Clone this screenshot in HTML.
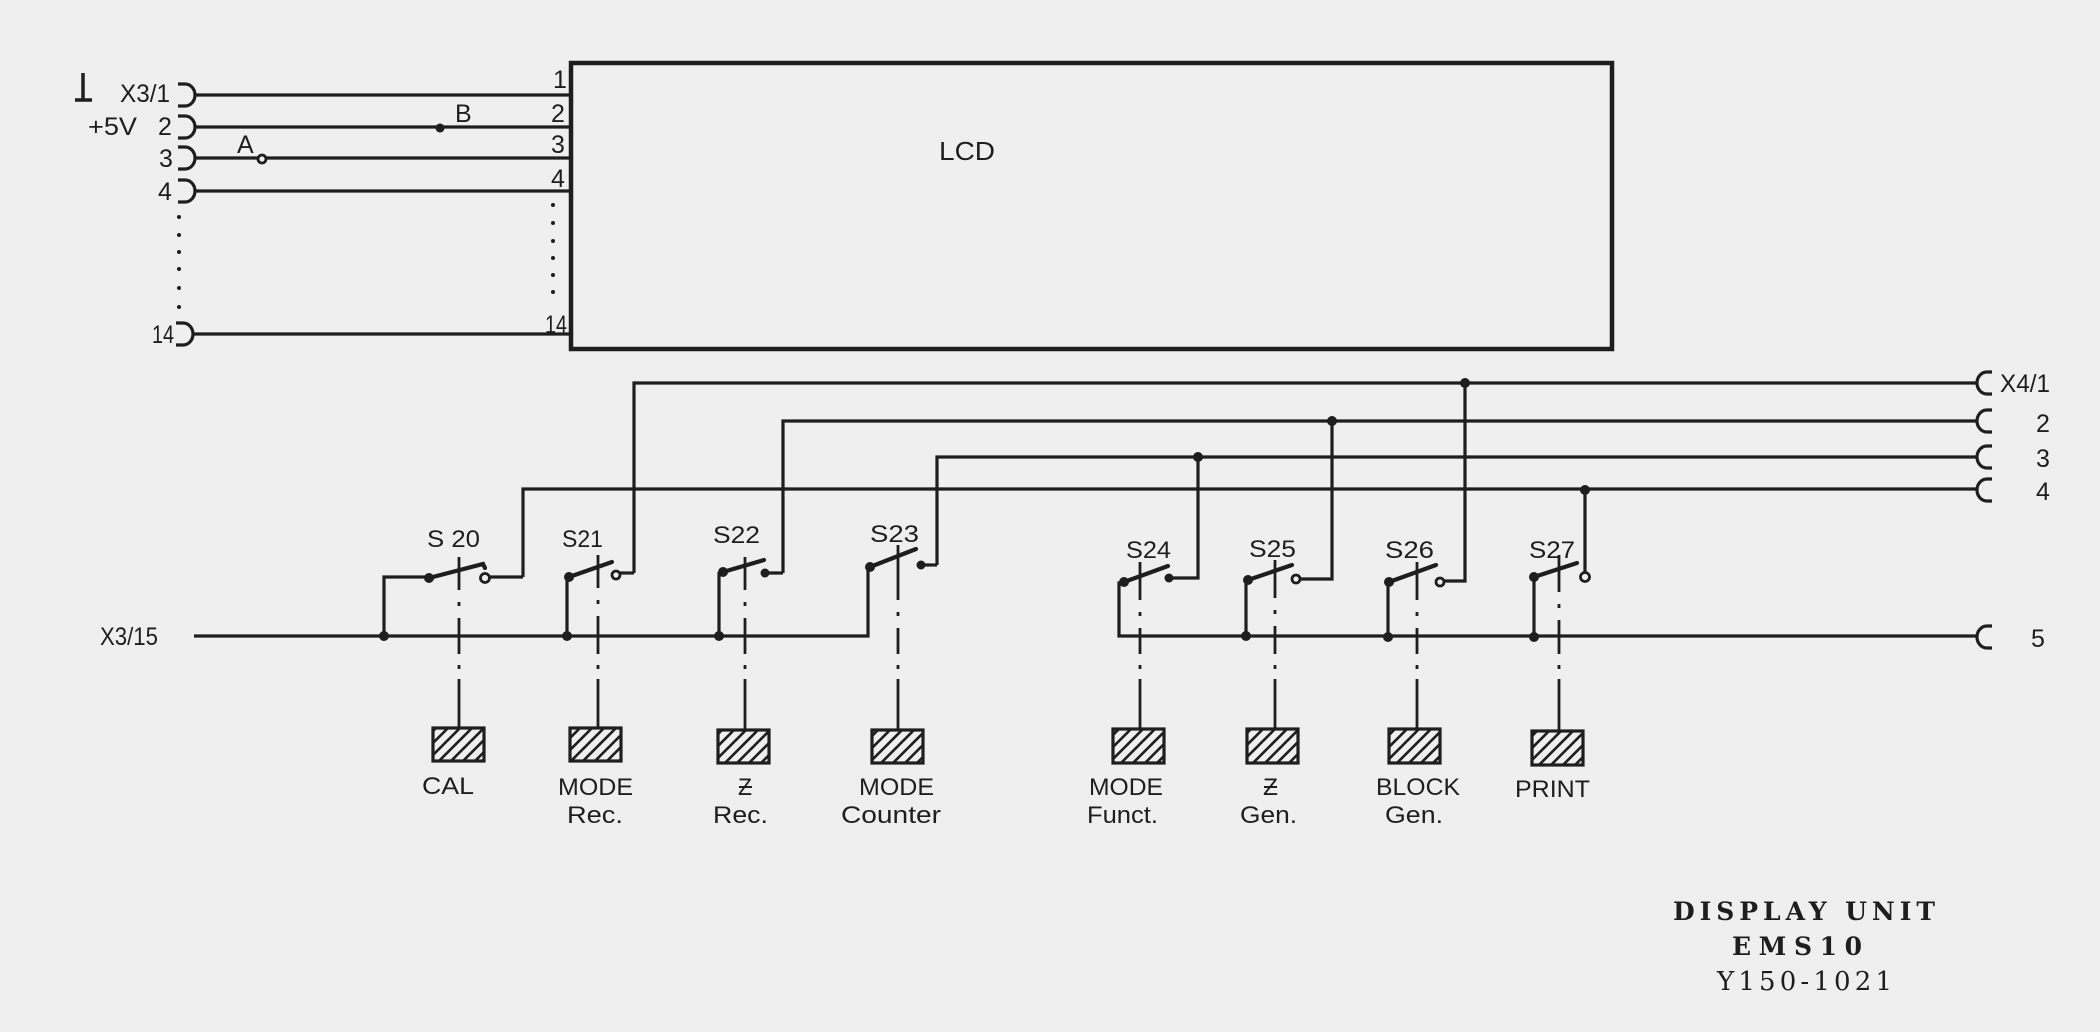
<!DOCTYPE html>
<html><head><meta charset="utf-8"><style>
html,body{margin:0;padding:0;background:#efefef;}
svg{display:block;}
text{font-family:"Liberation Sans",sans-serif;fill:#1e1e1e;}
.t{font-family:"DejaVu Serif","Liberation Serif",serif;}
</style></head><body>
<svg width="2100" height="1032" viewBox="0 0 2100 1032" xmlns="http://www.w3.org/2000/svg">
<defs>
<pattern id="h" patternUnits="userSpaceOnUse" width="12" height="12">
<path d="M-3,3 L3,-3 M0,12 L12,0 M9,15 L15,9" stroke="#1e1e1e" stroke-width="2.6"/>
</pattern>
</defs>
<rect width="2100" height="1032" fill="#efefef"/>
<g stroke="#1e1e1e" stroke-width="3.2" fill="none" stroke-linecap="butt">
<!-- LCD box -->
<rect x="571" y="63" width="1041" height="286" stroke-width="4.5"/>
<!-- left connectors -->
<path d="M178,84 H185 A10,11 0 0 1 185,106 H178"/>
<path d="M178,116 H185 A10,11 0 0 1 185,138 H178"/>
<path d="M178,147 H185 A10,11 0 0 1 185,169 H178"/>
<path d="M178,180 H185 A10,11 0 0 1 185,202 H178"/>
<path d="M176,323 H183 A10,11 0 0 1 183,345 H176"/>
<!-- left lines -->
<path d="M195,95 H571 M195,127 H571 M195,158 H258 M266,158 H571 M195,191 H571 M193,334 H571"/>
<!-- ground symbol -->
<path d="M83,73 V99 M75,100 H92" stroke-width="3.5"/>
<!-- right buses -->
<path d="M634,573 V383 H1976"/>
<path d="M783,573 V421 H1976"/>
<path d="M937,565 V457 H1976"/>
<path d="M523,577 V489 H1976"/>
<path d="M194,636 H868 V567"/>
<path d="M1124,583 H1119 V636 H1976"/>
<!-- right connectors -->
<path d="M1992,372 H1987 A10,11 0 0 0 1987,394 H1992"/>
<path d="M1992,410 H1987 A10,11 0 0 0 1987,432 H1992"/>
<path d="M1992,446 H1987 A10,11 0 0 0 1987,468 H1992"/>
<path d="M1992,479 H1987 A10,11 0 0 0 1987,501 H1992"/>
<path d="M1992,626 H1987 A10,11 0 0 0 1987,648 H1992"/>
<!-- S20 -->
<path d="M384,636 V577 H429"/>
<path d="M489,577 H523"/>
<!-- S21 -->
<path d="M567,636 V577"/>
<path d="M620,573 H634"/>
<!-- S22 -->
<path d="M719,636 V572"/>
<path d="M765,573 H783"/>
<!-- S23 -->
<path d="M921,565 H937"/>
<!-- S24 -->
<path d="M1169,578 H1198 V457"/>
<!-- S25 -->
<path d="M1246,636 V580"/>
<path d="M1300,579 H1332 V421"/>
<!-- S26 -->
<path d="M1388,637 V582"/>
<path d="M1444,581 H1465 V383"/>
<!-- S27 -->
<path d="M1534,637 V577"/>
<path d="M1585,573 V490"/>
<!-- blades -->
<g stroke-width="4.2" stroke-linecap="round">
<path d="M429,578 L483,564 L485,568"/>
<path d="M569,577 L612,562"/>
<path d="M723,572 L764,560"/>
<path d="M870,567 L916,549"/>
<path d="M1124,582 L1168,566"/>
<path d="M1248,580 L1292,565"/>
<path d="M1389,582 L1436,565"/>
<path d="M1534,577 L1577,563"/>
</g>
<!-- actuators -->
<g stroke-width="2.8">
<path d="M459,557 V590 M459,602 V606 M459,618 V654 M459,665 V669 M459,679 V728"/>
<path d="M598,555 V588 M598,600 V604 M598,616 V654 M598,665 V669 M598,679 V728"/>
<path d="M745,557 V590 M745,602 V606 M745,618 V654 M745,665 V669 M745,679 V730"/>
<path d="M898,545 V600 M898,612 V616 M898,628 V654 M898,665 V669 M898,679 V730"/>
<path d="M1140,562 V600 M1140,612 V616 M1140,628 V654 M1140,665 V669 M1140,679 V728"/>
<path d="M1275,560 V598 M1275,610 V614 M1275,626 V654 M1275,665 V669 M1275,679 V728"/>
<path d="M1417,562 V600 M1417,612 V616 M1417,628 V654 M1417,665 V669 M1417,679 V728"/>
<path d="M1559,555 V592 M1559,604 V608 M1559,620 V654 M1559,665 V669 M1559,679 V730"/>
</g>
<!-- boxes -->
<g fill="url(#h)" stroke-width="3.2">
<rect x="433" y="728" width="51" height="33"/>
<rect x="570" y="728" width="51" height="33"/>
<rect x="718" y="730" width="51" height="33"/>
<rect x="872" y="730" width="51" height="33"/>
<rect x="1113" y="729" width="51" height="34"/>
<rect x="1247" y="729" width="51" height="34"/>
<rect x="1389" y="729" width="51" height="34"/>
<rect x="1532" y="731" width="51" height="34"/>
</g>
<!-- Z strokes -->
<path d="M739,787 H752 M1264,787 H1277" stroke-width="2"/>
<!-- open contacts -->
<g fill="#efefef" stroke-width="2.8">
<circle cx="485" cy="578" r="4.5"/>
<circle cx="616" cy="575" r="4"/>
<circle cx="1296" cy="579" r="4"/>
<circle cx="1440" cy="582" r="4"/>
<circle cx="1585" cy="577" r="4.5"/>
<circle cx="262" cy="159" r="4"/>
</g>
</g>
<!-- filled dots -->
<g fill="#1e1e1e">
<circle cx="440" cy="128" r="4.5"/>
<circle cx="384" cy="636" r="5"/>
<circle cx="567" cy="636" r="5"/>
<circle cx="719" cy="636" r="5"/>
<circle cx="1246" cy="636" r="5"/>
<circle cx="1388" cy="637" r="5"/>
<circle cx="1534" cy="637" r="5"/>
<circle cx="1198" cy="457" r="5"/>
<circle cx="1332" cy="421" r="5"/>
<circle cx="1465" cy="383" r="5"/>
<circle cx="1585" cy="490" r="5"/>
<circle cx="429" cy="578" r="5"/>
<circle cx="569" cy="577" r="5"/>
<circle cx="723" cy="572" r="5"/>
<circle cx="870" cy="567" r="5"/>
<circle cx="1124" cy="582" r="5"/>
<circle cx="1248" cy="580" r="5"/>
<circle cx="1389" cy="582" r="5"/>
<circle cx="1534" cy="577" r="5"/>
<circle cx="765" cy="573" r="4.5"/>
<circle cx="921" cy="565" r="4.5"/>
<circle cx="1169" cy="578" r="4.5"/>
<!-- dotted columns -->
<circle cx="179" cy="217" r="2"/><circle cx="179" cy="235" r="2"/><circle cx="179" cy="252" r="2"/>
<circle cx="179" cy="269" r="2"/><circle cx="179" cy="288" r="2"/><circle cx="179" cy="307" r="2"/>
<circle cx="553" cy="205" r="2"/><circle cx="553" cy="223" r="2"/><circle cx="553" cy="241" r="2"/>
<circle cx="553" cy="258" r="2"/><circle cx="553" cy="275" r="2"/><circle cx="553" cy="292" r="2"/>
</g>
<!-- left labels -->
<g font-size="25">
<text x="120" y="102" textLength="50" lengthAdjust="spacingAndGlyphs">X3/1</text>
<text x="88" y="135" textLength="49" lengthAdjust="spacingAndGlyphs">+5V</text>
<text x="158" y="135">2</text>
<text x="159" y="167">3</text>
<text x="158" y="200">4</text>
<text x="152" y="343" textLength="22" lengthAdjust="spacingAndGlyphs">14</text>
<text x="237" y="153">A</text>
<text x="455" y="122">B</text>
<text x="553" y="88">1</text>
<text x="551" y="122">2</text>
<text x="551" y="153">3</text>
<text x="551" y="187">4</text>
<text x="545" y="333" textLength="22" lengthAdjust="spacingAndGlyphs">14</text>
<text x="939" y="160" font-size="26" textLength="56" lengthAdjust="spacingAndGlyphs">LCD</text>
<text x="100" y="645" textLength="58" lengthAdjust="spacingAndGlyphs">X3/15</text>
<text x="2000" y="392" textLength="50" lengthAdjust="spacingAndGlyphs">X4/1</text>
<text x="2036" y="432">2</text>
<text x="2036" y="467">3</text>
<text x="2036" y="500">4</text>
<text x="2031" y="647">5</text>
</g>
<!-- switch labels -->
<g font-size="24">
<text x="427" y="547" textLength="53" lengthAdjust="spacingAndGlyphs">S 20</text>
<text x="562" y="547" textLength="41" lengthAdjust="spacingAndGlyphs">S21</text>
<text x="713" y="543" textLength="47" lengthAdjust="spacingAndGlyphs">S22</text>
<text x="870" y="542" textLength="49" lengthAdjust="spacingAndGlyphs">S23</text>
<text x="1126" y="558" textLength="45" lengthAdjust="spacingAndGlyphs">S24</text>
<text x="1249" y="557" textLength="47" lengthAdjust="spacingAndGlyphs">S25</text>
<text x="1385" y="558" textLength="49" lengthAdjust="spacingAndGlyphs">S26</text>
<text x="1529" y="558" textLength="46" lengthAdjust="spacingAndGlyphs">S27</text>
</g>
<!-- button labels -->
<g font-size="24">
<text x="422" y="794" textLength="52" lengthAdjust="spacingAndGlyphs">CAL</text>
<text x="558" y="795" textLength="75" lengthAdjust="spacingAndGlyphs">MODE</text>
<text x="567" y="823" textLength="56" lengthAdjust="spacingAndGlyphs">Rec.</text>
<text x="738" y="795" textLength="14" lengthAdjust="spacingAndGlyphs">Z</text>
<text x="713" y="823" textLength="55" lengthAdjust="spacingAndGlyphs">Rec.</text>
<text x="859" y="795" textLength="75" lengthAdjust="spacingAndGlyphs">MODE</text>
<text x="841" y="823" textLength="100" lengthAdjust="spacingAndGlyphs">Counter</text>
<text x="1089" y="795" textLength="74" lengthAdjust="spacingAndGlyphs">MODE</text>
<text x="1087" y="823" textLength="71" lengthAdjust="spacingAndGlyphs">Funct.</text>
<text x="1263" y="795" textLength="15" lengthAdjust="spacingAndGlyphs">Z</text>
<text x="1240" y="823" textLength="57" lengthAdjust="spacingAndGlyphs">Gen.</text>
<text x="1376" y="795" textLength="84" lengthAdjust="spacingAndGlyphs">BLOCK</text>
<text x="1385" y="823" textLength="58" lengthAdjust="spacingAndGlyphs">Gen.</text>
<text x="1515" y="797" textLength="75" lengthAdjust="spacingAndGlyphs">PRINT</text>
</g>
<!-- title -->
<g>
<text class="t" x="1673" y="920" font-size="25" font-weight="bold" textLength="262" lengthAdjust="spacing">DISPLAY UNIT</text>
<text class="t" x="1732" y="955" font-size="25" font-weight="bold" textLength="130" lengthAdjust="spacing">EMS10</text>
<text class="t" x="1717" y="990" font-size="26" textLength="175" lengthAdjust="spacing">Y150-1021</text>
</g>
</svg>
</body></html>
